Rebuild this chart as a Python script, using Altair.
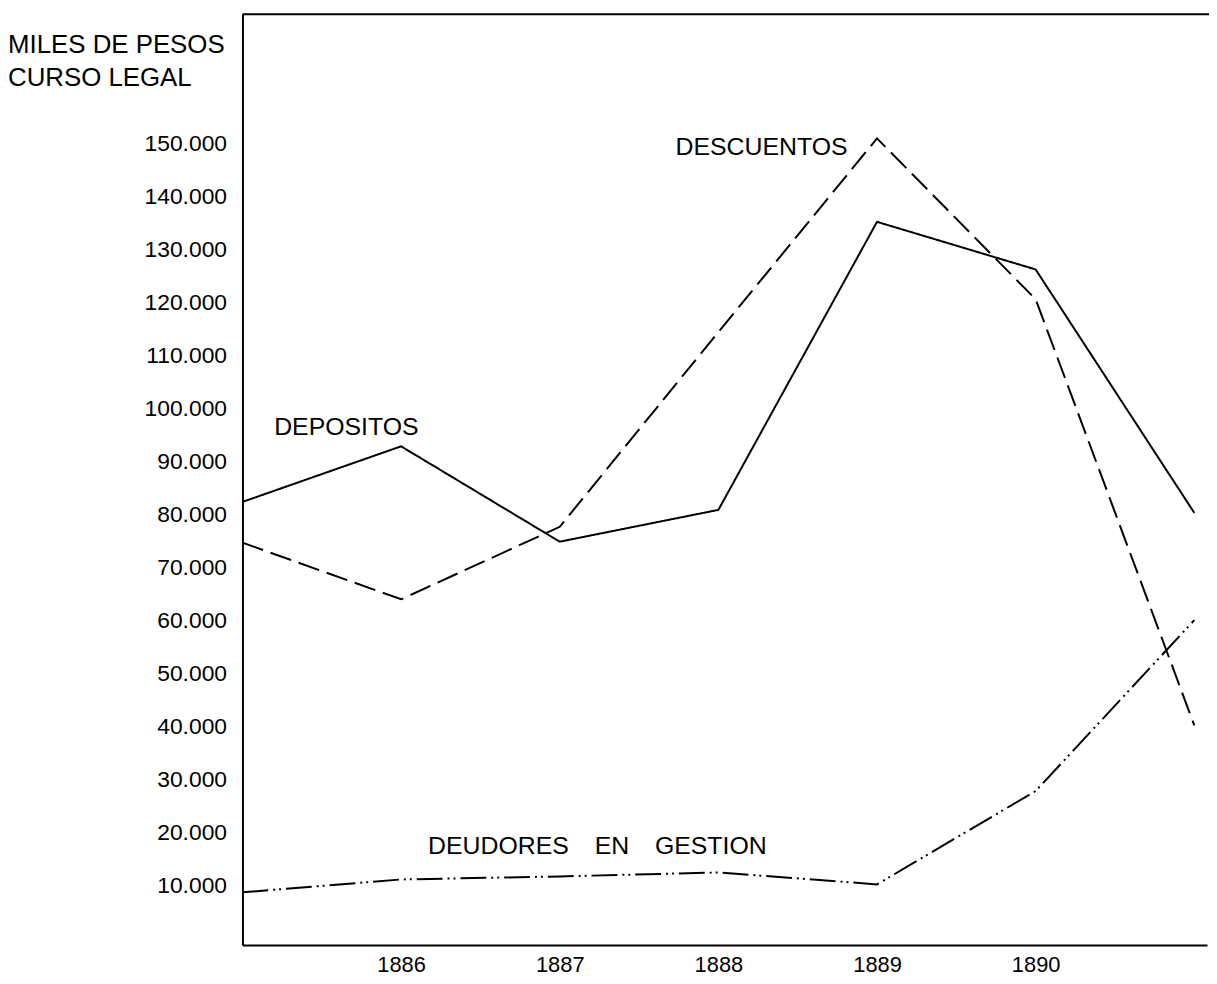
import altair as alt
import pandas as pd

years = [1885, 1886, 1887, 1888, 1889, 1890, 1891]
depositos = [82340, 92830, 74840, 80840, 135180, 126190, 80275]
descuentos = [74650, 63970, 77650, 114380, 150920, 120570, 40170]
deudores = [8690, 11120, 11690, 12440, 10190, 27800, 60040]

series_names = ["DEPOSITOS", "DESCUENTOS", "DEUDORES EN GESTION"]
label_text = ["DEPOSITOS", "DESCUENTOS", "DEUDORES", "EN", "GESTION"]
label_x = [1885.2, 1887.73, 1886.17, 1887.22, 1887.6]
label_y = [96390, 149240, 17500, 17500, 17500]

y_ticks = list(range(10000, 160000, 10000))
x_ticks = [1886, 1887, 1888, 1889, 1890]
title_lines = ["MILES DE PESOS", "CURSO LEGAL"]

rows = []
for name, vals in zip(series_names, [depositos, descuentos, deudores]):
    for yr, v in zip(years, vals):
        rows.append({"year": yr, "value": v, "serie": name})
df = pd.DataFrame(rows)
labels_df = pd.DataFrame({"x": label_x, "y": label_y, "text": label_text})

FONT = "Liberation Sans"
W, H = 971, 937

xscale = alt.Scale(domain=[1885, 1891.08], nice=False, zero=False)
yscale = alt.Scale(domain=[-1244, 174350], nice=False, zero=False)

lines = alt.Chart(df).mark_line(color="black", strokeWidth=2).encode(
    x=alt.X("year:Q", scale=xscale,
            axis=alt.Axis(values=x_ticks, format="d", title=None, ticks=False,
                          grid=False, labelFontSize=22, labelFont=FONT,
                          labelColor="black", labelPadding=10,
                          domainColor="black", domainWidth=2)),
    y=alt.Y("value:Q", scale=yscale,
            axis=alt.Axis(values=y_ticks, title=None, ticks=False, grid=False,
                          labelExpr="replace(format(datum.value, ','), ',', '.')",
                          labelFontSize=23, labelFont=FONT, labelColor="black",
                          labelPadding=16, domainColor="black", domainWidth=2)),
    detail="serie:N",
    strokeDash=alt.StrokeDash(
        "serie:N",
        scale=alt.Scale(domain=series_names,
                        range=[[1, 0], [22, 8], [26, 5, 2, 4, 2, 5]]),
        legend=None),
)

labels = alt.Chart(labels_df).mark_text(
    align="left", baseline="middle", fontSize=25, font=FONT, color="black"
).encode(
    x=alt.X("x:Q", scale=xscale),
    y=alt.Y("y:Q", scale=yscale),
    text="text:N",
)

title1 = alt.Chart(pd.DataFrame({"t": [title_lines[0]]})).mark_text(
    align="left", baseline="middle", fontSize=26, font=FONT, color="black"
).encode(x=alt.value(-236), y=alt.value(31), text="t:N")

title2 = alt.Chart(pd.DataFrame({"t": [title_lines[1]]})).mark_text(
    align="left", baseline="middle", fontSize=26, font=FONT, color="black"
).encode(x=alt.value(-236), y=alt.value(64), text="t:N")

top_line = alt.Chart(pd.DataFrame({"a": [0]})).mark_rule(
    color="black", strokeWidth=2
).encode(x=alt.value(0), x2=alt.value(973), y=alt.value(0))

chart = alt.layer(lines, labels, title1, title2, top_line).properties(
    width=W, height=H,
    padding={"left": 236, "top": 3, "right": 2, "bottom": 30},
    autosize="none",
).configure_view(stroke=None)

chart.save("out.html", embed_options={"renderer": "svg", "actions": False})
